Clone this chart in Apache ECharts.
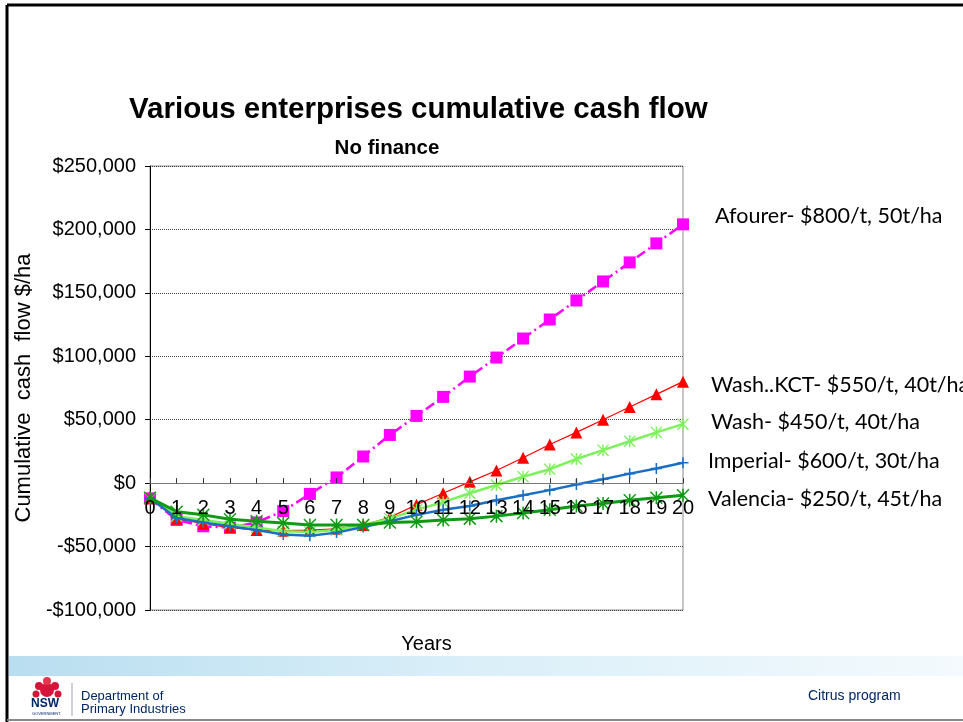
<!DOCTYPE html>
<html>
<head>
<meta charset="utf-8">
<title>Various enterprises cumulative cash flow</title>
<script src="https://cdn.jsdelivr.net/npm/echarts@6/dist/echarts.min.js"></script>
<style>
  html, body { margin: 0; padding: 0; background: #fff; }
  #chart { width: 963px; height: 722px; }
</style>
</head>
<body>
<div id="chart"></div>
<script>
// years along the bottom
var years = ['0','1','2','3','4','5','6','7','8','9','10','11','12','13','14','15','16','17','18','19','20'];

// cumulative cash flow $/ha
var afourer  = [-12000,-29000,-34000,-35000,-31000,-22000,-8500,4500,21000,38000,53000,68000,84000,99000,114000,129000,144000,159000,174000,189000,204000];
var washKct  = [-12000,-28000,-32000,-35000,-37000,-37500,-37000,-36000,-33000,-27000,-17000,-8000,1000,10000,20000,30500,40000,50000,60000,70000,80000];
var wash     = [-12000,-26000,-29000,-32000,-35000,-38000,-38500,-37000,-33000,-28000,-21000,-15000,-8000,-1500,5000,11000,19000,26000,33000,40000,46500];
var imperial = [-12000,-27500,-31000,-34000,-37000,-40500,-41500,-39000,-34500,-30000,-25000,-21000,-18000,-13500,-9500,-5500,-1000,3000,7500,11500,16000];
var valencia = [-11500,-22500,-25000,-28500,-30000,-31500,-33000,-33000,-33000,-31000,-30500,-29000,-28000,-26000,-23500,-21000,-18000,-16000,-13500,-11500,-9500];

var seriesNames = [
  'Afourer- $800/t, 50t/ha',
  'Wash..KCT- $550/t, 40t/ha',
  'Wash- $450/t, 40t/ha',
  'Imperial- $600/t, 30t/ha',
  'Valencia- $250/t, 45t/ha'
];

var yTicks = [-100000, -50000, 0, 50000, 100000, 150000, 200000, 250000];

function money(v) {
  var s = Math.abs(v).toString().replace(/\B(?=(\d{3})+(?!\d))/g, ',');
  return (v < 0 ? '-$' : '$') + s;
}

// excel style markers
var asterisk = 'path://M4.4 0h1.2v10h-1.2Z M0.8 0L10 9.2L9.2 10L0 0.8Z M9.2 0L10 0.8L0.8 10L0 9.2Z';
var plus = 'path://M4.3 0h1.4v10h-1.4Z M0 4.3h10v1.4h-10Z';

var chart = echarts.init(document.getElementById('chart'));

var labelFont = '21.5px Lato, "Open Sans", sans-serif';

// plot box
var gridTop = 166, gridBottom = 112, plotH = 722 - gridTop - gridBottom;
// lift the category axis up to the $0 line
var zeroShift = plotH * (0 - yTicks[0]) / (yTicks[yTicks.length - 1] - yTicks[0]);

var option = {
  backgroundColor: '#fff',
  animation: false,
  grid: {
    left: 150, right: 280, top: gridTop, bottom: gridBottom,
    outerBoundsMode: 'none',
    containLabel: false,
    show: true, borderColor: '#8c8c8c', borderWidth: 1
  },
  xAxis: {
    type: 'category',
    data: years,
    boundaryGap: false,
    offset: -zeroShift,
    z: 10,
    name: 'Years',
    nameLocation: 'middle',
    nameGap: 151,
    nameTextStyle: { fontFamily: 'Liberation Sans, Arial', fontSize: 20, color: '#000', padding: [0, 0, 0, 20] },
    axisLine: { onZero: false, lineStyle: { color: '#777', width: 1 } },
    axisTick: { inside: true, length: 5, alignWithLabel: true, lineStyle: { color: '#333' } },
    axisLabel: { interval: 0, margin: 15, fontFamily: 'Liberation Sans, Arial', fontSize: 20, color: '#000' },
    splitLine: { show: false }
  },
  yAxis: {
    type: 'value',
    min: yTicks[0],
    max: yTicks[yTicks.length - 1],
    interval: 50000,
    name: 'Cumulative  cash  flow $/ha',
    nameLocation: 'middle',
    nameGap: 114,
    nameTextStyle: { fontFamily: 'Liberation Sans, Arial', fontSize: 22, color: '#000' },
    axisLine: { show: true, lineStyle: { color: '#000', width: 1 } },
    axisTick: { show: true, length: 5, lineStyle: { color: '#000' } },
    axisLabel: { margin: 14, fontFamily: 'Liberation Sans, Arial', fontSize: 20, color: '#000', formatter: money },
    splitLine: { show: true, lineStyle: { color: '#444', type: [1, 1], width: 1 } }
  },
  title: [
    {
      text: 'Various enterprises cumulative cash flow',
      left: 124, top: 90,
      textStyle: { fontFamily: 'Liberation Sans, Arial', fontWeight: 'bold', fontSize: 29.5, color: '#000' }
    },
    {
      text: 'No finance',
      left: 382, top: 133, textAlign: 'center',
      textStyle: { fontFamily: 'Liberation Sans, Arial', fontWeight: 'bold', fontSize: 20.5, color: '#000' }
    }
  ],
  series: [
    {
      name: seriesNames[0], type: 'line', data: afourer,
      symbol: 'rect', symbolSize: 12,
      itemStyle: { color: '#ff00ff' },
      lineStyle: { color: '#ff00ff', width: 2.5, type: [10, 4, 2, 4] },
      z: 2
    },
    {
      name: seriesNames[1], type: 'line', data: washKct,
      symbol: 'triangle', symbolSize: 12,
      itemStyle: { color: '#ff0000' },
      lineStyle: { color: '#ff0000', width: 1.2 },
      z: 3
    },
    {
      name: seriesNames[2], type: 'line', data: wash,
      symbol: asterisk, symbolSize: 12,
      itemStyle: { color: '#7cf25a' },
      lineStyle: { color: '#7cf25a', width: 2.5 },
      z: 4
    },
    {
      name: seriesNames[3], type: 'line', data: imperial,
      symbol: plus, symbolSize: 11,
      itemStyle: { color: '#1a6fc4' },
      lineStyle: { color: '#1a6fc4', width: 2.5 },
      z: 5
    },
    {
      name: seriesNames[4], type: 'line', data: valencia,
      symbol: asterisk, symbolSize: 13,
      itemStyle: { color: '#0e9a14' },
      lineStyle: { color: '#0e9a14', width: 3 },
      z: 6
    }
  ],
  graphic: [
    // slide frame
    { type: 'line', shape: { x1: 7, y1: 5, x2: 963, y2: 5 }, style: { stroke: '#000', lineWidth: 3 } },
    { type: 'line', shape: { x1: 7, y1: 5, x2: 7, y2: 722 }, style: { stroke: '#000', lineWidth: 3 } },
    { type: 'line', shape: { x1: 7, y1: 720, x2: 963, y2: 720 }, style: { stroke: '#888', lineWidth: 2 } },
    // series labels at right
    { type: 'text', left: 715, top: 205, style: { text: seriesNames[0], font: labelFont, fill: '#000' } },
    { type: 'text', left: 711, top: 374, style: { text: seriesNames[1], font: labelFont, fill: '#000' } },
    { type: 'text', left: 711, top: 411, style: { text: seriesNames[2], font: labelFont, fill: '#000' } },
    { type: 'text', left: 708, top: 450, style: { text: seriesNames[3], font: labelFont, fill: '#000' } },
    { type: 'text', left: 708, top: 488, style: { text: seriesNames[4], font: labelFont, fill: '#000' } },
    // footer band
    {
      type: 'rect', shape: { x: 9, y: 656, width: 954, height: 20 },
      style: {
        fill: new echarts.graphic.LinearGradient(0, 0, 1, 0, [
          { offset: 0, color: '#b9def0' },
          { offset: 0.45, color: '#d8eef8' },
          { offset: 1, color: '#f4fafd' }
        ])
      }
    },
    // NSW logo
    { type: 'circle', shape: { cx: 47, cy: 690, r: 7 }, style: { fill: '#d7153a' } },
    { type: 'circle', shape: { cx: 39, cy: 686, r: 4 }, style: { fill: '#d7153a' } },
    { type: 'circle', shape: { cx: 55, cy: 686, r: 4 }, style: { fill: '#d7153a' } },
    { type: 'circle', shape: { cx: 47, cy: 681, r: 4 }, style: { fill: '#e8344f' } },
    { type: 'circle', shape: { cx: 36, cy: 694, r: 3.5 }, style: { fill: '#d7153a' } },
    { type: 'circle', shape: { cx: 58, cy: 694, r: 3.5 }, style: { fill: '#d7153a' } },
    { type: 'text', left: 31, top: 698, style: { text: 'NSW', font: 'bold 12px "Liberation Sans", Arial', fill: '#002664' } },
    { type: 'text', left: 32, top: 712, style: { text: 'GOVERNMENT', font: '4px "Liberation Sans", Arial', fill: '#002664' } },
    { type: 'line', shape: { x1: 72, y1: 683, x2: 72, y2: 716 }, style: { stroke: '#9aa3b5', lineWidth: 1 } },
    { type: 'text', left: 81, top: 690, style: { text: 'Department of\nPrimary Industries', font: '13px "Liberation Sans", Arial', lineHeight: 13, fill: '#002664' } },
    { type: 'text', left: 808, top: 689, style: { text: 'Citrus program', font: '14px "Liberation Sans", Arial', fill: '#002664' } }
  ]
};

chart.setOption(option);
</script>
</body>
</html>
